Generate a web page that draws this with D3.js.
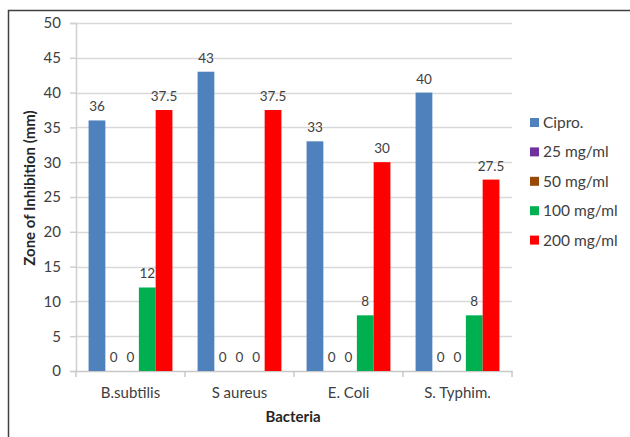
<!DOCTYPE html>
<html>
<head>
<meta charset="utf-8">
<script src="https://d3js.org/d3.v7.min.js"></script>
<style>
  body { margin: 0; background: #fff; }
  text { font-family: Lato, "Open Sans", sans-serif; fill: #404040; }
</style>
</head>
<body>
<div id="chart"></div>
<script>
  // chart data
  var bacteria = ["B.subtilis", "S aureus", "E. Coli", "S. Typhim."];
  var seriesNames = ["Cipro.", "25 mg/ml", "50 mg/ml", "100 mg/ml", "200 mg/ml"];
  var seriesColors = ["#4f81bd", "#7030a0", "#984807", "#00b050", "#ff0000"];
  var cipro = [36, 43, 33, 40];
  var mg25 = [0, 0, 0, 0];
  var mg50 = [0, 0, 0, 0];
  var mg100 = [12, 0, 8, 8];
  var mg200 = [37.5, 37.5, 30, 27.5];
  var yTicks = [0, 5, 10, 15, 20, 25, 30, 35, 40, 45, 50];

  var series = [cipro, mg25, mg50, mg100, mg200];

  var width = 630, height = 437;
  var margin = { top: 23, left: 76 };
  var w = 436, h = 348;

  var svg = d3.select("#chart")
    .append("svg")
    .attr("width", width)
    .attr("height", height);

  // outer frame (only top and left visible)
  svg.append("rect")
    .attr("x", 8.5)
    .attr("y", 10.5)
    .attr("width", 640)
    .attr("height", 450)
    .attr("fill", "none")
    .attr("stroke", "#404040")
    .attr("stroke-width", 1.5);

  var g = svg.append("g")
    .attr("transform", "translate(" + margin.left + "," + margin.top + ")");

  var xScale = d3.scaleBand()
    .domain(bacteria)
    .range([0, w]);

  var yScale = d3.scaleLinear()
    .domain([0, 50])
    .range([h, 0]);

  var barW = xScale.bandwidth() / 6.5;
  var groupOffset = (xScale.bandwidth() - barW * 5) / 2;

  // gridlines
  g.selectAll(".grid")
    .data(yTicks.slice(1))
    .enter()
    .append("line")
    .attr("x1", 0)
    .attr("x2", w)
    .attr("y1", function(d) { return Math.round(yScale(d)) + 0.5; })
    .attr("y2", function(d) { return Math.round(yScale(d)) + 0.5; })
    .attr("stroke", "#d9d9d9")
    .attr("stroke-width", 1.5);

  // y axis
  var yAxis = g.append("g")
    .call(d3.axisLeft(yScale).tickValues(yTicks).tickSize(6).tickPadding(9));
  yAxis.select(".domain").attr("stroke", "#d0d0d0").attr("stroke-width", 1.5);
  yAxis.selectAll(".tick line").attr("stroke", "#d0d0d0").attr("stroke-width", 1.5);
  yAxis.selectAll(".tick text")
    .style("font-family", "Lato, 'Open Sans', sans-serif")
    .style("font-size", "15px")
    .attr("fill", "#404040");

  // x axis
  var xAxis = g.append("g")
    .attr("transform", "translate(0," + h + ")")
    .call(d3.axisBottom(xScale).tickSize(0).tickPadding(16));
  xAxis.select(".domain").attr("stroke", "#c8c8c8").attr("stroke-width", 1.5);
  xAxis.selectAll(".tick text")
    .style("font-family", "Lato, 'Open Sans', sans-serif")
    .style("font-size", "15px")
    .attr("fill", "#404040");

  // category boundary ticks
  var bounds = [0].concat(bacteria.map(function(b) { return xScale(b) + xScale.bandwidth(); }));
  g.selectAll(".xtick")
    .data(bounds)
    .enter()
    .append("line")
    .attr("x1", function(d) { return d; })
    .attr("x2", function(d) { return d; })
    .attr("y1", h)
    .attr("y2", h + 6)
    .attr("stroke", "#c8c8c8")
    .attr("stroke-width", 1.5);

  // bars and labels
  series.forEach(function(vals, si) {
    var sg = g.append("g");
    sg.selectAll("rect")
      .data(vals)
      .enter()
      .append("rect")
      .attr("x", function(d, i) { return xScale(bacteria[i]) + groupOffset + si * barW; })
      .attr("y", function(d) { return yScale(d); })
      .attr("width", barW)
      .attr("height", function(d) { return h - yScale(d); })
      .attr("fill", seriesColors[si]);

    sg.selectAll("text")
      .data(vals)
      .enter()
      .append("text")
      .attr("x", function(d, i) { return xScale(bacteria[i]) + groupOffset + si * barW + barW / 2; })
      .attr("y", function(d) { return yScale(d) - 9; })
      .attr("text-anchor", "middle")
      .style("font-size", "13.5px")
      .text(function(d) { return d; });
  });

  // axis titles
  svg.append("text")
    .attr("transform", "translate(35,188) rotate(-90)")
    .attr("text-anchor", "middle")
    .style("font-size", "15px")
    .style("font-weight", "bold")
    .style("fill", "#262626")
    .text("Zone of Inhibition (mm)");

  svg.append("text")
    .attr("x", 293)
    .attr("y", 422)
    .attr("text-anchor", "middle")
    .style("font-size", "15px")
    .style("font-weight", "bold")
    .style("fill", "#262626")
    .text("Bacteria");

  // legend
  var legend = svg.append("g")
    .attr("transform", "translate(530,118)");
  var items = legend.selectAll(".item")
    .data(seriesNames)
    .enter()
    .append("g")
    .attr("transform", function(d, i) { return "translate(0," + i * 29.4 + ")"; });
  items.append("rect")
    .attr("width", 9)
    .attr("height", 9)
    .attr("y", 0)
    .attr("fill", function(d, i) { return seriesColors[i]; });
  items.append("text")
    .attr("x", 13)
    .attr("y", 10)
    .style("font-size", "15.5px")
    .text(function(d) { return d; });
</script>
</body>
</html>
